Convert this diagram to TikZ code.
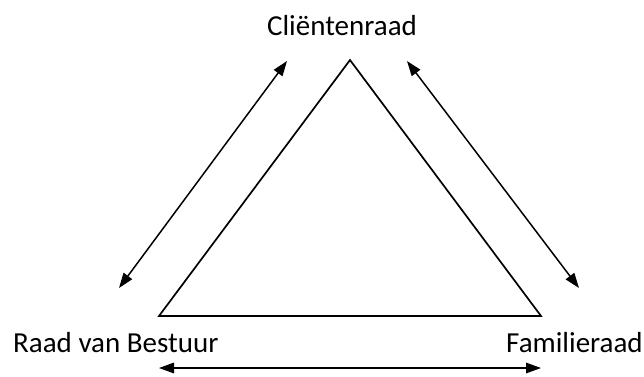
\documentclass[tikz,border=0pt]{standalone}
\usepackage{fontspec}
\setmainfont{Carlito}
\usetikzlibrary{arrows.meta}
\begin{document}
\begin{tikzpicture}[x=1bp,y=-1bp,
  lbl/.style={inner sep=0pt,font=\fontsize{29bp}{35bp}\selectfont},
  tri/.style={draw,line width=1.7bp,line join=miter},
  twoway/.style={{Triangle[length=15bp,width=10.5bp]}-{Triangle[length=15bp,width=10.5bp]},line width=1.5bp}]
  \useasboundingbox (0,0) rectangle (644,376);
  % triangle corners
  \coordinate (top) at (350,60);
  \coordinate (bl) at (159,316);
  \coordinate (br) at (541,316);
  \draw[tri] (top) -- (bl) -- (br) -- cycle;
  % labels
  \node[lbl,anchor=base] (client) at (342,35.5) {Cliëntenraad};
  \node[lbl,anchor=base west] (rvb) at (13,352) {Raad van Bestuur};
  \node[lbl,anchor=base west] (fam) at (506,352) {Familieraad};
  % arrow ends
  \coordinate (la) at (287,61);
  \coordinate (lb) at (119,288);
  \coordinate (ra) at (407,61);
  \coordinate (rb) at (579,288);
  \coordinate (ba) at (159,368);
  \coordinate (bb) at (541,368);
  \draw[twoway] (la) -- (lb);
  \draw[twoway] (ra) -- (rb);
  \draw[twoway] (ba) -- (bb);
\end{tikzpicture}
\end{document}
